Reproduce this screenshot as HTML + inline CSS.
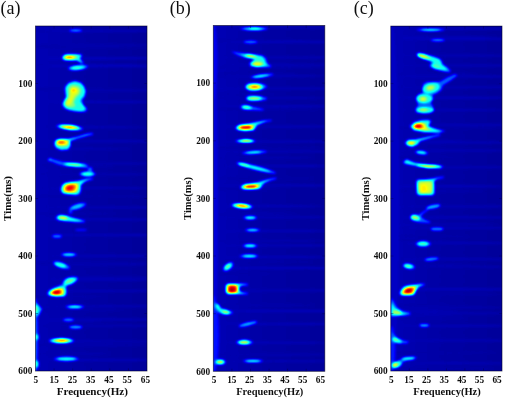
<!DOCTYPE html>
<html><head><meta charset="utf-8"><title>Spectrograms</title><style>
html,body{margin:0;padding:0;background:#fff;width:511px;height:399px;overflow:hidden}
svg{display:block;position:absolute;left:0;top:0}
text{font-family:"Liberation Serif",serif;fill:#111}
.t{font-weight:bold;font-size:9.3px}
.ax{font-weight:bold;font-size:11.1px}
.pl{font-size:18px}
</style></head><body>
<svg width="511" height="399" viewBox="0 0 511 399">
<defs>
<filter id="tb" x="-0.1" y="-0.3" width="1.2" height="1.6"><feGaussianBlur stdDeviation="0.35"/></filter>
<linearGradient id="bgg" x1="0" y1="0" x2="1" y2="0"><stop offset="0" stop-color="rgb(5.5%,5.5%,5.5%)"/><stop offset="0.4" stop-color="rgb(4.0%,4.0%,4.0%)"/><stop offset="1" stop-color="rgb(2.8%,2.8%,2.8%)"/></linearGradient>
<filter id="jet" x="0" y="0" width="1" height="1" color-interpolation-filters="sRGB">
<feGaussianBlur stdDeviation="0.95" edgeMode="duplicate"/>
<feComponentTransfer>
<feFuncR type="table" tableValues="0 0 0 0 0.5 1 1 1 0.5"/>
<feFuncG type="table" tableValues="0 0 0.5 1 1 1 0.5 0 0"/>
<feFuncB type="table" tableValues="0.5 1 1 1 0.5 0 0 0 0"/>
</feComponentTransfer>
</filter>

<clipPath id="ca"><rect x="35.5" y="26.0" width="111.50" height="345.00"/></clipPath>
<clipPath id="cb"><rect x="213.3" y="25.5" width="111.50" height="345.80"/></clipPath>
<clipPath id="cc"><rect x="390.8" y="26.1" width="111.20" height="344.90"/></clipPath>
</defs>
<g clip-path="url(#ca)"><g filter="url(#jet)">
<rect x="31.5" y="22.0" width="119.50" height="353.00" fill="url(#bgg)"/>
<ellipse cx="92.5" cy="47.0" rx="62.5" ry="1.0" fill="rgb(4.2%,4.2%,4.2%)"/>
<ellipse cx="90.2" cy="196.3" rx="60.2" ry="1.0" fill="rgb(4.4%,4.4%,4.4%)"/>
<ellipse cx="67.3" cy="88.5" rx="37.3" ry="1.0" fill="rgb(4.4%,4.4%,4.4%)"/>
<ellipse cx="94.9" cy="263.0" rx="64.9" ry="1.0" fill="rgb(4.4%,4.4%,4.4%)"/>
<ellipse cx="66.4" cy="31.1" rx="36.4" ry="1.0" fill="rgb(4.4%,4.4%,4.4%)"/>
<ellipse cx="74.4" cy="213.9" rx="44.4" ry="1.0" fill="rgb(4.6%,4.6%,4.6%)"/>
<ellipse cx="93.3" cy="345.0" rx="63.3" ry="1.0" fill="rgb(4.6%,4.6%,4.6%)"/>
<ellipse cx="78.7" cy="309.8" rx="48.7" ry="1.0" fill="rgb(4.7%,4.7%,4.7%)"/>
<ellipse cx="68.2" cy="296.7" rx="38.2" ry="1.0" fill="rgb(4.8%,4.8%,4.8%)"/>
<ellipse cx="94.6" cy="44.6" rx="64.6" ry="1.0" fill="rgb(4.9%,4.9%,4.9%)"/>
<ellipse cx="72.1" cy="166.4" rx="42.1" ry="1.0" fill="rgb(5.0%,5.0%,5.0%)"/>
<ellipse cx="75.2" cy="59.1" rx="45.2" ry="1.0" fill="rgb(5.0%,5.0%,5.0%)"/>
<ellipse cx="94.0" cy="174.4" rx="58.0" ry="1.1" fill="rgb(5.0%,5.0%,5.0%)"/>
<ellipse cx="93.5" cy="277.5" rx="63.5" ry="1.0" fill="rgb(5.0%,5.0%,5.0%)"/>
<ellipse cx="108.4" cy="341.4" rx="72.4" ry="1.1" fill="rgb(5.0%,5.0%,5.0%)"/>
<ellipse cx="111.0" cy="325.7" rx="75.0" ry="1.1" fill="rgb(5.0%,5.0%,5.0%)"/>
<ellipse cx="109.5" cy="90.4" rx="73.5" ry="1.1" fill="rgb(5.1%,5.1%,5.1%)"/>
<ellipse cx="107.4" cy="163.5" rx="71.4" ry="1.1" fill="rgb(5.2%,5.2%,5.2%)"/>
<ellipse cx="94.8" cy="264.6" rx="58.8" ry="1.1" fill="rgb(5.2%,5.2%,5.2%)"/>
<ellipse cx="70.9" cy="353.7" rx="40.9" ry="1.0" fill="rgb(5.2%,5.2%,5.2%)"/>
<ellipse cx="80.7" cy="149.0" rx="50.7" ry="1.0" fill="rgb(5.2%,5.2%,5.2%)"/>
<ellipse cx="87.5" cy="64.8" rx="57.5" ry="1.0" fill="rgb(5.2%,5.2%,5.2%)"/>
<ellipse cx="95.7" cy="188.1" rx="59.7" ry="1.1" fill="rgb(5.3%,5.3%,5.3%)"/>
<ellipse cx="91.8" cy="127.2" rx="55.8" ry="1.1" fill="rgb(5.3%,5.3%,5.3%)"/>
<ellipse cx="108.9" cy="207.4" rx="72.9" ry="1.1" fill="rgb(5.3%,5.3%,5.3%)"/>
<ellipse cx="109.4" cy="255.9" rx="73.4" ry="1.1" fill="rgb(5.4%,5.4%,5.4%)"/>
<ellipse cx="75.2" cy="341.1" rx="45.2" ry="1.0" fill="rgb(5.4%,5.4%,5.4%)"/>
<ellipse cx="105.1" cy="290.9" rx="69.1" ry="1.1" fill="rgb(5.4%,5.4%,5.4%)"/>
<ellipse cx="66.1" cy="321.2" rx="36.1" ry="1.0" fill="rgb(5.4%,5.4%,5.4%)"/>
<ellipse cx="107.9" cy="306.2" rx="71.9" ry="1.1" fill="rgb(5.6%,5.6%,5.6%)"/>
<ellipse cx="96.4" cy="101.9" rx="60.4" ry="1.1" fill="rgb(5.7%,5.7%,5.7%)"/>
<ellipse cx="98.8" cy="359.9" rx="62.8" ry="1.1" fill="rgb(5.7%,5.7%,5.7%)"/>
<ellipse cx="97.5" cy="279.7" rx="61.5" ry="1.1" fill="rgb(5.7%,5.7%,5.7%)"/>
<ellipse cx="102.3" cy="219.4" rx="66.3" ry="1.1" fill="rgb(5.8%,5.8%,5.8%)"/>
<ellipse cx="110.3" cy="235.1" rx="74.3" ry="1.1" fill="rgb(5.8%,5.8%,5.8%)"/>
<ellipse cx="101.1" cy="319.4" rx="65.1" ry="1.1" fill="rgb(5.8%,5.8%,5.8%)"/>
<ellipse cx="109.8" cy="141.3" rx="73.8" ry="1.1" fill="rgb(5.9%,5.9%,5.9%)"/>
<ellipse cx="106.3" cy="30.9" rx="70.3" ry="1.1" fill="rgb(6.0%,6.0%,6.0%)"/>
<ellipse cx="106.3" cy="58.3" rx="70.3" ry="1.1" fill="rgb(6.1%,6.1%,6.1%)"/>
<ellipse cx="100.8" cy="66.1" rx="64.8" ry="1.1" fill="rgb(6.1%,6.1%,6.1%)"/>
<ellipse cx="81.0" cy="229.9" rx="6.0" ry="1.2" fill="rgb(15.0%,15.0%,15.0%)"/>
<ellipse cx="70.5" cy="211.5" rx="2.0" ry="2.5" fill="rgb(18.0%,18.0%,18.0%)"/>
<ellipse cx="35.5" cy="338.0" rx="2.5" ry="40.0" fill="rgb(20.0%,20.0%,20.0%)"/>
<path d="M61.5 57.5 L63.0 55.0 L66.5 53.8 L76.0 53.8 L81.5 54.3 L82.5 56.0 L80.5 58.5 L84.0 62.5 L82.0 64.0 L77.5 61.0 L72.0 61.0 L65.0 60.8 L62.0 59.5Z" fill="rgb(22.0%,22.0%,22.0%)"/>
<ellipse cx="78.0" cy="67.5" rx="10.2" ry="2.7" fill="rgb(22.0%,22.0%,22.0%)" transform="rotate(-6 78.0 67.5)"/>
<path d="M75.0 80.4 L81.3 82.3 L84.2 85.8 L86.2 90.7 L85.2 96.5 L82.3 100.4 L83.3 104.4 L87.2 108.3 L86.2 111.7 L79.4 112.2 L69.6 110.7 L63.7 108.3 L61.7 104.4 L63.7 100.0 L65.7 96.5 L64.7 91.6 L64.7 86.7 L68.6 82.3Z" fill="rgb(22.0%,22.0%,22.0%)"/>
<ellipse cx="69.7" cy="127.5" rx="13.5" ry="2.9" fill="rgb(22.0%,22.0%,22.0%)" transform="rotate(6 69.7 127.5)"/>
<path d="M54.1 142.2 L55.8 139.3 L61.1 138.2 L68.1 138.4 L77.0 136.5 L86.0 133.8 L92.4 132.8 L93.2 134.7 L86.0 136.3 L77.3 138.8 L71.0 141.0 L71.0 146.0 L68.1 149.9 L61.1 150.5 L55.8 148.3 L54.1 145.0Z" fill="rgb(22.0%,22.0%,22.0%)"/>
<path d="M48.0 159.5 L50.0 158.0 L53.0 159.0 L62.0 161.5 L75.0 162.5 L85.0 163.5 L88.5 165.5 L87.0 168.5 L80.0 167.5 L66.0 166.5 L58.0 164.5 L51.0 161.5Z" fill="rgb(22.0%,22.0%,22.0%)"/>
<ellipse cx="87.5" cy="174.0" rx="8.2" ry="2.8" fill="rgb(22.0%,22.0%,22.0%)"/>
<ellipse cx="90.0" cy="170.0" rx="2.5" ry="3.0" fill="rgb(22.0%,22.0%,22.0%)"/>
<path d="M60.2 189.0 L61.5 185.0 L64.5 182.5 L70.0 181.3 L78.0 180.5 L86.0 178.5 L92.5 177.8 L93.0 179.5 L86.0 181.5 L81.5 185.0 L81.5 190.0 L80.0 194.0 L77.0 195.5 L70.0 195.0 L63.0 194.0 L60.8 192.0Z" fill="rgb(22.0%,22.0%,22.0%)"/>
<ellipse cx="77.5" cy="206.5" rx="9.0" ry="2.8" fill="rgb(22.0%,22.0%,22.0%)" transform="rotate(-18 77.5 206.5)"/>
<path d="M55.5 217.5 L57.0 215.5 L60.0 214.5 L66.0 215.0 L72.0 217.0 L80.0 219.0 L85.0 220.5 L84.5 222.5 L76.0 222.5 L66.0 221.5 L59.0 220.8 L56.2 219.5Z" fill="rgb(22.0%,22.0%,22.0%)"/>
<ellipse cx="68.9" cy="254.6" rx="7.8" ry="1.9" fill="rgb(22.0%,22.0%,22.0%)"/>
<ellipse cx="61.5" cy="265.3" rx="8.8" ry="3.0" fill="rgb(22.0%,22.0%,22.0%)" transform="rotate(18 61.5 265.3)"/>
<path d="M61.5 286.0 L62.5 282.0 L64.5 279.0 L68.0 277.3 L73.0 276.5 L77.5 277.0 L78.3 279.0 L76.0 282.0 L72.0 284.5 L67.0 286.0 L65.0 288.0Z" fill="rgb(22.0%,22.0%,22.0%)"/>
<path d="M47.0 293.0 L49.0 290.0 L53.0 287.8 L58.0 286.0 L61.0 284.5 L64.0 284.8 L66.5 287.0 L67.0 291.0 L66.5 295.0 L64.0 297.0 L56.0 297.2 L50.0 296.3 L47.5 295.0Z" fill="rgb(22.0%,22.0%,22.0%)"/>
<ellipse cx="74.8" cy="306.8" rx="9.3" ry="1.9" fill="rgb(22.0%,22.0%,22.0%)"/>
<ellipse cx="61.5" cy="340.7" rx="12.8" ry="2.9" fill="rgb(22.0%,22.0%,22.0%)"/>
<ellipse cx="66.5" cy="358.9" rx="12.3" ry="2.3" fill="rgb(22.0%,22.0%,22.0%)"/>
<ellipse cx="57.0" cy="236.3" rx="4.8" ry="1.8" fill="rgb(24.0%,24.0%,24.0%)"/>
<ellipse cx="36.0" cy="337.0" rx="3.0" ry="4.0" fill="rgb(25.0%,25.0%,25.0%)"/>
<ellipse cx="36.0" cy="364.0" rx="3.0" ry="4.5" fill="rgb(25.0%,25.0%,25.0%)"/>
<ellipse cx="75.7" cy="30.5" rx="6.5" ry="1.4" fill="rgb(26.0%,26.0%,26.0%)"/>
<ellipse cx="68.5" cy="319.8" rx="5.2" ry="1.6" fill="rgb(26.0%,26.0%,26.0%)"/>
<ellipse cx="50.0" cy="159.8" rx="2.2" ry="1.4" fill="rgb(28.0%,28.0%,28.0%)"/>
<path d="M35.0 302.0 L37.0 303.0 L42.0 309.0 L38.5 316.0 L35.0 317.0Z" fill="rgb(30.0%,30.0%,30.0%)"/>
<ellipse cx="75.7" cy="327.1" rx="6.5" ry="1.7" fill="rgb(30.0%,30.0%,30.0%)"/>
<ellipse cx="77.0" cy="206.6" rx="6.0" ry="1.8" fill="rgb(33.0%,33.0%,33.0%)" transform="rotate(-18 77.0 206.6)"/>
<path d="M62.8 57.5 L64.0 55.3 L67.0 54.6 L76.0 54.6 L80.5 55.0 L81.0 56.2 L79.0 58.5 L81.5 62.0 L80.5 62.6 L77.0 60.2 L72.0 60.2 L65.5 60.0 L63.2 59.0Z" fill="rgb(40.0%,40.0%,40.0%)"/>
<ellipse cx="77.5" cy="67.7" rx="7.5" ry="1.9" fill="rgb(40.0%,40.0%,40.0%)" transform="rotate(-6 77.5 67.7)"/>
<path d="M74.5 81.8 L80.3 83.3 L83.8 86.7 L85.2 91.6 L83.8 96.0 L80.8 99.0 L80.3 101.4 L83.3 105.3 L85.7 109.2 L82.3 111.2 L74.5 110.7 L66.6 108.8 L63.2 104.4 L64.2 100.4 L66.6 97.0 L66.1 92.6 L65.7 87.7 L68.6 83.8Z" fill="rgb(40.0%,40.0%,40.0%)"/>
<ellipse cx="69.5" cy="127.3" rx="11.0" ry="2.3" fill="rgb(40.0%,40.0%,40.0%)" transform="rotate(6 69.5 127.3)"/>
<path d="M55.2 142.2 L56.6 140.0 L61.1 139.1 L68.0 139.3 L77.0 137.4 L86.0 134.8 L90.5 134.0 L86.0 135.6 L77.3 138.0 L70.0 140.5 L70.0 146.0 L67.5 149.0 L61.1 149.5 L56.5 147.5 L55.2 145.0Z" fill="rgb(40.0%,40.0%,40.0%)"/>
<ellipse cx="74.5" cy="164.8" rx="11.0" ry="1.7" fill="rgb(40.0%,40.0%,40.0%)" transform="rotate(4 74.5 164.8)"/>
<ellipse cx="87.5" cy="174.0" rx="6.0" ry="2.0" fill="rgb(40.0%,40.0%,40.0%)"/>
<path d="M61.5 189.0 L62.5 185.5 L65.0 183.3 L70.0 182.3 L78.0 181.5 L86.0 179.5 L89.0 179.3 L84.0 181.5 L80.2 185.5 L80.0 190.0 L78.5 193.5 L76.0 194.5 L70.0 194.0 L63.5 193.2 L61.8 191.5Z" fill="rgb(40.0%,40.0%,40.0%)"/>
<path d="M57.0 217.7 L59.0 216.0 L63.0 215.6 L67.0 216.3 L73.0 218.3 L80.0 220.0 L82.0 221.3 L76.0 221.5 L66.0 220.7 L59.5 219.8Z" fill="rgb(40.0%,40.0%,40.0%)"/>
<ellipse cx="68.9" cy="254.6" rx="5.5" ry="1.2" fill="rgb(40.0%,40.0%,40.0%)"/>
<path d="M63.5 285.5 L64.0 282.5 L66.0 279.8 L69.0 278.3 L73.0 277.7 L76.5 278.3 L75.5 280.8 L71.5 283.5 L67.0 285.0 L65.0 287.0Z" fill="rgb(40.0%,40.0%,40.0%)"/>
<path d="M48.5 293.0 L50.5 290.5 L54.0 288.6 L58.5 287.0 L62.0 286.0 L64.5 286.5 L65.8 289.5 L65.8 293.5 L64.5 296.0 L56.0 296.3 L50.5 295.5 L48.8 294.5Z" fill="rgb(40.0%,40.0%,40.0%)"/>
<ellipse cx="61.5" cy="340.7" rx="11.0" ry="2.3" fill="rgb(40.0%,40.0%,40.0%)"/>
<ellipse cx="60.5" cy="265.0" rx="6.0" ry="2.0" fill="rgb(42.0%,42.0%,42.0%)" transform="rotate(15 60.5 265.0)"/>
<ellipse cx="74.8" cy="306.8" rx="6.5" ry="1.2" fill="rgb(42.0%,42.0%,42.0%)"/>
<ellipse cx="66.5" cy="358.9" rx="9.0" ry="1.5" fill="rgb(42.0%,42.0%,42.0%)"/>
<ellipse cx="87.0" cy="174.0" rx="3.0" ry="1.2" fill="rgb(44.0%,44.0%,44.0%)"/>
<ellipse cx="36.0" cy="337.0" rx="1.8" ry="2.5" fill="rgb(45.0%,45.0%,45.0%)"/>
<ellipse cx="36.0" cy="364.0" rx="1.8" ry="3.0" fill="rgb(45.0%,45.0%,45.0%)"/>
<ellipse cx="76.5" cy="68.0" rx="4.0" ry="1.2" fill="rgb(46.0%,46.0%,46.0%)"/>
<ellipse cx="69.5" cy="281.0" rx="4.5" ry="2.2" fill="rgb(48.0%,48.0%,48.0%)" transform="rotate(-20 69.5 281.0)"/>
<ellipse cx="36.0" cy="309.5" rx="2.0" ry="4.0" fill="rgb(48.0%,48.0%,48.0%)"/>
<path d="M63.5 57.5 L65.0 55.6 L68.0 55.2 L74.0 55.3 L77.5 55.8 L76.5 58.0 L73.0 59.5 L66.0 59.5 L64.0 58.7Z" fill="rgb(52.0%,52.0%,52.0%)"/>
<path d="M73.5 85.0 L78.5 86.3 L80.8 89.5 L80.0 93.8 L76.8 96.8 L74.8 99.8 L74.0 103.0 L75.5 106.0 L71.0 107.5 L66.0 106.5 L64.5 103.5 L66.5 100.0 L68.5 96.5 L68.5 92.0 L68.5 88.0 L70.5 85.8Z" fill="rgb(52.0%,52.0%,52.0%)"/>
<ellipse cx="69.5" cy="127.3" rx="9.5" ry="2.0" fill="rgb(52.0%,52.0%,52.0%)" transform="rotate(5 69.5 127.3)"/>
<path d="M55.8 142.5 L57.0 140.2 L60.0 139.5 L65.0 139.5 L68.8 140.3 L69.0 143.0 L67.5 145.8 L62.0 146.3 L57.5 145.6 L56.0 144.2Z" fill="rgb(52.0%,52.0%,52.0%)"/>
<ellipse cx="74.0" cy="164.7" rx="7.5" ry="1.4" fill="rgb(52.0%,52.0%,52.0%)" transform="rotate(4 74.0 164.7)"/>
<path d="M62.5 188.5 L63.5 185.5 L66.0 183.8 L71.0 183.0 L77.0 182.8 L79.0 184.0 L78.8 188.0 L77.5 192.0 L74.0 193.3 L68.0 193.3 L64.0 192.5 L62.7 190.8Z" fill="rgb(52.0%,52.0%,52.0%)"/>
<ellipse cx="63.0" cy="217.9" rx="5.0" ry="1.9" fill="rgb(52.0%,52.0%,52.0%)" transform="rotate(8 63.0 217.9)"/>
<path d="M49.5 293.0 L51.5 290.8 L55.0 289.2 L59.0 288.0 L62.5 287.8 L64.3 289.5 L64.3 293.5 L63.0 295.5 L56.0 295.7 L51.0 295.0 L49.7 294.2Z" fill="rgb(52.0%,52.0%,52.0%)"/>
<ellipse cx="61.5" cy="340.6" rx="8.5" ry="1.9" fill="rgb(55.0%,55.0%,55.0%)"/>
<path d="M73.0 87.2 L77.0 88.2 L78.6 90.7 L77.6 93.8 L75.0 95.6 L73.0 98.6 L72.0 102.0 L70.0 104.8 L67.3 105.5 L66.0 104.0 L67.0 100.8 L69.6 97.3 L70.2 93.4 L70.2 89.7Z" fill="rgb(60.0%,60.0%,60.0%)"/>
<ellipse cx="63.0" cy="217.9" rx="3.8" ry="1.4" fill="rgb(60.0%,60.0%,60.0%)" transform="rotate(8 63.0 217.9)"/>
<path d="M64.5 57.5 L66.0 56.0 L69.0 55.7 L73.5 56.0 L75.5 56.5 L74.5 58.2 L72.0 59.0 L66.5 59.0 L65.0 58.4Z" fill="rgb(63.0%,63.0%,63.0%)"/>
<ellipse cx="69.5" cy="127.3" rx="8.0" ry="1.5" fill="rgb(64.0%,64.0%,64.0%)" transform="rotate(5 69.5 127.3)"/>
<path d="M56.6 142.5 L57.8 140.6 L60.3 140.0 L65.0 140.0 L68.0 140.7 L68.1 143.0 L66.5 145.1 L62.0 145.5 L58.0 145.0 L56.8 144.0Z" fill="rgb(64.0%,64.0%,64.0%)"/>
<path d="M63.5 188.5 L64.5 186.0 L66.5 184.5 L71.0 183.8 L76.0 183.6 L77.8 184.8 L77.5 188.0 L76.0 191.5 L73.0 192.6 L68.0 192.6 L65.0 191.8 L63.7 190.3Z" fill="rgb(64.0%,64.0%,64.0%)"/>
<path d="M50.3 293.0 L52.2 291.1 L55.5 289.7 L59.5 288.8 L62.0 288.8 L63.3 290.2 L63.2 293.5 L62.0 295.0 L56.0 295.2 L51.5 294.5Z" fill="rgb(64.0%,64.0%,64.0%)"/>
<ellipse cx="61.8" cy="340.6" rx="7.0" ry="1.6" fill="rgb(66.0%,66.0%,66.0%)"/>
<ellipse cx="73.5" cy="90.2" rx="2.5" ry="1.6" fill="rgb(68.0%,68.0%,68.0%)"/>
<ellipse cx="69.6" cy="57.3" rx="3.2" ry="1.4" fill="rgb(76.0%,76.0%,76.0%)"/>
<ellipse cx="62.0" cy="340.6" rx="4.0" ry="1.3" fill="rgb(76.0%,76.0%,76.0%)"/>
<ellipse cx="69.2" cy="127.2" rx="4.2" ry="1.0" fill="rgb(78.0%,78.0%,78.0%)" transform="rotate(3 69.2 127.2)"/>
<ellipse cx="61.3" cy="142.3" rx="3.4" ry="1.7" fill="rgb(78.0%,78.0%,78.0%)"/>
<path d="M65.3 188.5 L66.5 186.0 L69.0 184.7 L73.0 184.4 L75.5 185.2 L75.5 188.0 L73.5 190.8 L70.0 191.3 L67.0 191.0 L65.6 190.0Z" fill="rgb(78.0%,78.0%,78.0%)"/>
<path d="M51.5 292.8 L53.0 291.0 L56.0 290.0 L59.5 289.4 L61.2 290.0 L61.5 292.5 L60.5 294.3 L56.0 294.7 L52.5 294.2Z" fill="rgb(78.0%,78.0%,78.0%)"/>
<ellipse cx="70.0" cy="188.0" rx="3.6" ry="2.2" fill="rgb(88.0%,88.0%,88.0%)" transform="rotate(-15 70.0 188.0)"/>
<path d="M52.5 292.6 L54.0 291.1 L57.0 290.4 L59.5 290.3 L60.3 292.0 L59.5 293.8 L56.0 294.2 L53.5 293.8Z" fill="rgb(92.0%,92.0%,92.0%)"/>
<ellipse cx="56.0" cy="292.4" rx="2.5" ry="1.2" fill="rgb(96.0%,96.0%,96.0%)"/>
</g></g>
<rect x="35.5" y="26.0" width="111.50" height="345.00" fill="none" stroke="#000020" stroke-width="0.8" stroke-opacity="0.7"/>
<path d="M54.1 371.0v-2.6M54.1 26.0v2.6M35.5 83.5h2.6M147.0 83.5h-2.6M72.7 371.0v-2.6M72.7 26.0v2.6M35.5 141.0h2.6M147.0 141.0h-2.6M91.2 371.0v-2.6M91.2 26.0v2.6M35.5 198.5h2.6M147.0 198.5h-2.6M109.8 371.0v-2.6M109.8 26.0v2.6M35.5 256.0h2.6M147.0 256.0h-2.6M128.4 371.0v-2.6M128.4 26.0v2.6M35.5 313.5h2.6M147.0 313.5h-2.6" stroke="#000040" stroke-width="0.8" stroke-opacity="0.45" fill="none"/>
<g filter="url(#tb)">
<text class="t" x="32.3" y="86.7" text-anchor="end">100</text>
<text class="t" x="32.3" y="144.2" text-anchor="end">200</text>
<text class="t" x="32.3" y="201.7" text-anchor="end">300</text>
<text class="t" x="32.3" y="259.2" text-anchor="end">400</text>
<text class="t" x="32.3" y="316.7" text-anchor="end">500</text>
<text class="t" x="32.3" y="374.2" text-anchor="end">600</text>
<text class="t" x="35.95" y="382.7" text-anchor="middle">5</text>
<text class="t" x="54.21" y="382.7" text-anchor="middle">15</text>
<text class="t" x="72.47" y="382.7" text-anchor="middle">25</text>
<text class="t" x="90.73" y="382.7" text-anchor="middle">35</text>
<text class="t" x="108.99" y="382.7" text-anchor="middle">45</text>
<text class="t" x="127.25" y="382.7" text-anchor="middle">55</text>
<text class="t" x="145.51" y="382.7" text-anchor="middle">65</text>
<text class="ax" x="92.30" y="395.3" text-anchor="middle" style="font-size:11.1px">Frequency(Hz)</text>
<text class="ax" transform="translate(11.4 198.5) rotate(-90)" x="0" y="0" text-anchor="middle" style="font-size:11.0px">Time(ms)</text>
<text class="pl" x="0.5" y="13.6">(a)</text>
</g>
<g clip-path="url(#cb)"><g filter="url(#jet)">
<rect x="209.3" y="21.5" width="119.50" height="353.80" fill="url(#bgg)"/>
<ellipse cx="270.1" cy="109.1" rx="62.1" ry="1.0" fill="rgb(4.2%,4.2%,4.2%)"/>
<ellipse cx="269.8" cy="147.7" rx="61.8" ry="1.0" fill="rgb(4.2%,4.2%,4.2%)"/>
<ellipse cx="261.9" cy="261.9" rx="53.9" ry="1.0" fill="rgb(4.3%,4.3%,4.3%)"/>
<ellipse cx="249.8" cy="188.8" rx="41.8" ry="1.0" fill="rgb(4.3%,4.3%,4.3%)"/>
<ellipse cx="261.4" cy="40.3" rx="53.4" ry="1.0" fill="rgb(4.3%,4.3%,4.3%)"/>
<ellipse cx="243.8" cy="273.7" rx="35.8" ry="1.0" fill="rgb(4.4%,4.4%,4.4%)"/>
<ellipse cx="252.5" cy="73.5" rx="44.5" ry="1.0" fill="rgb(4.4%,4.4%,4.4%)"/>
<ellipse cx="262.5" cy="178.4" rx="54.5" ry="1.0" fill="rgb(4.5%,4.5%,4.5%)"/>
<ellipse cx="262.3" cy="305.2" rx="54.3" ry="1.0" fill="rgb(4.7%,4.7%,4.7%)"/>
<ellipse cx="267.9" cy="67.2" rx="59.9" ry="1.0" fill="rgb(4.7%,4.7%,4.7%)"/>
<ellipse cx="251.4" cy="166.2" rx="43.4" ry="1.0" fill="rgb(4.7%,4.7%,4.7%)"/>
<ellipse cx="267.6" cy="354.8" rx="59.6" ry="1.0" fill="rgb(4.7%,4.7%,4.7%)"/>
<ellipse cx="244.1" cy="93.9" rx="36.1" ry="1.0" fill="rgb(4.8%,4.8%,4.8%)"/>
<ellipse cx="260.9" cy="76.5" rx="52.9" ry="1.0" fill="rgb(4.9%,4.9%,4.9%)"/>
<ellipse cx="253.2" cy="213.9" rx="45.2" ry="1.0" fill="rgb(5.0%,5.0%,5.0%)"/>
<ellipse cx="261.4" cy="157.7" rx="53.4" ry="1.0" fill="rgb(5.0%,5.0%,5.0%)"/>
<ellipse cx="272.0" cy="354.4" rx="64.0" ry="1.0" fill="rgb(5.0%,5.0%,5.0%)"/>
<ellipse cx="266.2" cy="240.7" rx="58.2" ry="1.0" fill="rgb(5.0%,5.0%,5.0%)"/>
<ellipse cx="276.3" cy="98.0" rx="62.3" ry="1.1" fill="rgb(5.1%,5.1%,5.1%)"/>
<ellipse cx="283.6" cy="151.6" rx="69.6" ry="1.1" fill="rgb(5.3%,5.3%,5.3%)"/>
<ellipse cx="279.1" cy="64.7" rx="65.1" ry="1.1" fill="rgb(5.3%,5.3%,5.3%)"/>
<ellipse cx="286.4" cy="27.7" rx="72.4" ry="1.1" fill="rgb(5.4%,5.4%,5.4%)"/>
<ellipse cx="272.4" cy="75.7" rx="58.4" ry="1.1" fill="rgb(5.5%,5.5%,5.5%)"/>
<ellipse cx="282.8" cy="361.2" rx="68.8" ry="1.1" fill="rgb(5.5%,5.5%,5.5%)"/>
<ellipse cx="282.9" cy="217.3" rx="68.9" ry="1.1" fill="rgb(5.6%,5.6%,5.6%)"/>
<ellipse cx="278.6" cy="57.4" rx="64.6" ry="1.1" fill="rgb(5.6%,5.6%,5.6%)"/>
<ellipse cx="279.9" cy="290.4" rx="65.9" ry="1.1" fill="rgb(5.6%,5.6%,5.6%)"/>
<ellipse cx="269.7" cy="206.2" rx="55.7" ry="1.1" fill="rgb(5.7%,5.7%,5.7%)"/>
<ellipse cx="288.7" cy="88.5" rx="74.7" ry="1.1" fill="rgb(5.8%,5.8%,5.8%)"/>
<ellipse cx="288.4" cy="185.4" rx="74.4" ry="1.1" fill="rgb(5.8%,5.8%,5.8%)"/>
<ellipse cx="284.9" cy="166.0" rx="70.9" ry="1.1" fill="rgb(5.8%,5.8%,5.8%)"/>
<ellipse cx="283.3" cy="323.9" rx="69.3" ry="1.1" fill="rgb(5.9%,5.9%,5.9%)"/>
<ellipse cx="282.4" cy="245.5" rx="68.4" ry="1.1" fill="rgb(5.9%,5.9%,5.9%)"/>
<ellipse cx="282.8" cy="141.6" rx="68.8" ry="1.1" fill="rgb(5.9%,5.9%,5.9%)"/>
<ellipse cx="285.2" cy="126.6" rx="71.2" ry="1.1" fill="rgb(5.9%,5.9%,5.9%)"/>
<ellipse cx="272.9" cy="342.7" rx="58.9" ry="1.1" fill="rgb(5.9%,5.9%,5.9%)"/>
<ellipse cx="282.4" cy="231.0" rx="68.4" ry="1.1" fill="rgb(6.0%,6.0%,6.0%)"/>
<ellipse cx="276.5" cy="257.0" rx="62.5" ry="1.1" fill="rgb(6.0%,6.0%,6.0%)"/>
<ellipse cx="289.5" cy="41.9" rx="75.5" ry="1.1" fill="rgb(6.0%,6.0%,6.0%)"/>
<ellipse cx="285.1" cy="106.3" rx="71.1" ry="1.1" fill="rgb(6.0%,6.0%,6.0%)"/>
<ellipse cx="286.2" cy="311.0" rx="72.2" ry="1.1" fill="rgb(6.1%,6.1%,6.1%)"/>
<ellipse cx="283.3" cy="268.1" rx="69.3" ry="1.1" fill="rgb(6.2%,6.2%,6.2%)"/>
<ellipse cx="213.0" cy="200.0" rx="5.0" ry="180.0" fill="rgb(8.5%,8.5%,8.5%)"/>
<ellipse cx="213.0" cy="60.0" rx="4.5" ry="40.0" fill="rgb(11.0%,11.0%,11.0%)"/>
<ellipse cx="213.0" cy="335.0" rx="6.0" ry="40.0" fill="rgb(14.0%,14.0%,14.0%)"/>
<ellipse cx="254.0" cy="28.7" rx="13.5" ry="1.7" fill="rgb(22.0%,22.0%,22.0%)"/>
<path d="M231.0 51.5 L236.0 52.0 L245.0 53.2 L256.0 54.2 L263.0 55.5 L266.0 58.0 L267.0 61.0 L268.0 63.5 L271.5 66.0 L270.0 67.5 L264.0 67.5 L256.0 67.5 L250.0 66.5 L249.0 63.0 L252.0 60.5 L254.0 59.0 L245.0 58.0 L238.0 55.5Z" fill="rgb(22.0%,22.0%,22.0%)"/>
<ellipse cx="262.0" cy="75.9" rx="11.7" ry="1.8" fill="rgb(22.0%,22.0%,22.0%)" transform="rotate(-8 262.0 75.9)"/>
<path d="M245.0 87.0 L246.0 84.5 L249.0 82.7 L258.0 82.7 L264.0 84.0 L267.5 86.5 L264.0 89.0 L258.0 91.0 L250.0 91.3 L246.5 89.5Z" fill="rgb(22.0%,22.0%,22.0%)"/>
<path d="M245.8 98.5 L247.0 96.0 L251.0 95.3 L260.0 95.8 L267.0 97.8 L266.0 100.0 L260.0 101.0 L251.0 101.3 L247.0 100.5Z" fill="rgb(22.0%,22.0%,22.0%)"/>
<path d="M240.3 107.0 L241.5 105.0 L245.0 104.8 L250.0 105.8 L258.0 107.8 L264.8 109.5 L262.0 110.5 L252.0 110.2 L244.0 109.8 L241.0 108.8Z" fill="rgb(22.0%,22.0%,22.0%)"/>
<path d="M235.0 127.7 L237.0 125.5 L240.0 124.2 L249.6 123.0 L256.0 121.7 L264.0 120.2 L271.5 119.7 L271.5 121.0 L264.0 122.5 L257.5 125.5 L256.0 128.0 L254.0 130.8 L245.0 131.4 L238.0 130.5 L235.6 129.0Z" fill="rgb(22.0%,22.0%,22.0%)"/>
<ellipse cx="245.5" cy="140.9" rx="10.2" ry="1.8" fill="rgb(22.0%,22.0%,22.0%)"/>
<ellipse cx="254.5" cy="152.3" rx="12.5" ry="1.7" fill="rgb(22.0%,22.0%,22.0%)" transform="rotate(-4 254.5 152.3)"/>
<ellipse cx="256.0" cy="168.0" rx="20.5" ry="2.3" fill="rgb(22.0%,22.0%,22.0%)" transform="rotate(14.6 256.0 168.0)"/>
<path d="M239.8 187.5 L241.5 185.0 L245.0 183.5 L252.0 182.7 L259.0 181.5 L266.0 179.5 L272.0 178.0 L276.5 177.5 L276.0 179.3 L270.0 181.0 L264.0 183.5 L262.5 186.5 L260.0 189.0 L252.0 189.8 L245.0 189.8 L241.5 189.0Z" fill="rgb(22.0%,22.0%,22.0%)"/>
<ellipse cx="242.0" cy="206.0" rx="11.0" ry="2.8" fill="rgb(22.0%,22.0%,22.0%)" transform="rotate(5 242.0 206.0)"/>
<ellipse cx="250.2" cy="217.7" rx="6.8" ry="2.0" fill="rgb(22.0%,22.0%,22.0%)"/>
<ellipse cx="252.6" cy="230.1" rx="7.5" ry="1.6" fill="rgb(22.0%,22.0%,22.0%)"/>
<ellipse cx="250.1" cy="245.8" rx="7.5" ry="2.0" fill="rgb(22.0%,22.0%,22.0%)"/>
<ellipse cx="249.0" cy="256.1" rx="9.4" ry="2.0" fill="rgb(22.0%,22.0%,22.0%)"/>
<ellipse cx="228.2" cy="266.6" rx="6.2" ry="3.5" fill="rgb(22.0%,22.0%,22.0%)" transform="rotate(-40 228.2 266.6)"/>
<path d="M225.2 286.0 L226.5 283.8 L229.0 283.2 L240.0 283.3 L247.5 283.6 L248.0 285.5 L241.0 286.2 L239.5 288.9 L241.0 291.8 L248.0 292.8 L247.5 294.4 L240.0 294.6 L229.0 294.6 L226.5 294.0 L225.2 292.0Z" fill="rgb(22.0%,22.0%,22.0%)"/>
<path d="M213.0 302.0 L216.0 302.5 L219.0 306.5 L224.0 309.5 L232.0 311.0 L233.0 313.5 L228.0 315.0 L222.0 314.5 L217.0 312.0 L213.5 308.0Z" fill="rgb(22.0%,22.0%,22.0%)"/>
<ellipse cx="244.5" cy="342.3" rx="8.5" ry="2.7" fill="rgb(22.0%,22.0%,22.0%)"/>
<ellipse cx="220.0" cy="362.0" rx="6.0" ry="3.0" fill="rgb(22.0%,22.0%,22.0%)"/>
<ellipse cx="253.0" cy="361.0" rx="10.0" ry="1.6" fill="rgb(22.0%,22.0%,22.0%)"/>
<ellipse cx="250.6" cy="42.0" rx="7.0" ry="1.4" fill="rgb(26.0%,26.0%,26.0%)"/>
<ellipse cx="248.0" cy="324.0" rx="9.5" ry="1.7" fill="rgb(30.0%,30.0%,30.0%)" transform="rotate(-14 248.0 324.0)"/>
<ellipse cx="254.0" cy="28.7" rx="10.0" ry="1.1" fill="rgb(40.0%,40.0%,40.0%)"/>
<path d="M240.0 54.0 L247.0 54.5 L256.0 55.2 L262.0 56.5 L264.5 59.5 L265.5 63.0 L268.0 65.5 L264.0 66.5 L256.0 66.5 L251.0 65.5 L251.0 63.0 L254.0 60.5 L255.0 59.0 L246.0 57.5Z" fill="rgb(40.0%,40.0%,40.0%)"/>
<ellipse cx="254.5" cy="87.0" rx="9.0" ry="3.5" fill="rgb(40.0%,40.0%,40.0%)"/>
<ellipse cx="254.5" cy="98.4" rx="8.0" ry="2.2" fill="rgb(40.0%,40.0%,40.0%)"/>
<ellipse cx="247.0" cy="107.4" rx="5.0" ry="1.8" fill="rgb(40.0%,40.0%,40.0%)" transform="rotate(8 247.0 107.4)"/>
<path d="M236.2 127.7 L238.0 125.8 L240.5 124.8 L249.6 123.8 L256.0 122.5 L264.0 121.0 L267.0 120.9 L257.0 124.5 L255.0 127.5 L253.3 130.0 L245.0 130.7 L238.5 129.9 L236.6 128.8Z" fill="rgb(40.0%,40.0%,40.0%)"/>
<ellipse cx="245.7" cy="140.9" rx="8.5" ry="1.4" fill="rgb(40.0%,40.0%,40.0%)"/>
<ellipse cx="254.0" cy="167.5" rx="17.0" ry="1.6" fill="rgb(40.0%,40.0%,40.0%)" transform="rotate(14.6 254.0 167.5)"/>
<path d="M241.0 187.5 L242.5 185.5 L245.5 184.3 L252.0 183.6 L259.0 182.5 L266.0 180.5 L271.0 179.3 L266.0 181.8 L261.5 184.5 L261.2 186.8 L259.2 188.6 L252.0 189.2 L245.0 189.2 L242.0 188.6Z" fill="rgb(40.0%,40.0%,40.0%)"/>
<ellipse cx="242.0" cy="206.0" rx="9.5" ry="2.2" fill="rgb(40.0%,40.0%,40.0%)" transform="rotate(5 242.0 206.0)"/>
<ellipse cx="252.5" cy="230.1" rx="5.0" ry="1.0" fill="rgb(40.0%,40.0%,40.0%)"/>
<ellipse cx="228.0" cy="266.6" rx="4.3" ry="2.3" fill="rgb(40.0%,40.0%,40.0%)" transform="rotate(-40 228.0 266.6)"/>
<path d="M226.0 286.3 L227.2 284.3 L229.5 283.9 L240.0 284.0 L245.0 284.4 L240.0 285.5 L238.3 288.9 L240.0 292.3 L245.0 293.4 L240.0 293.9 L229.5 293.9 L227.0 293.3 L226.0 291.5Z" fill="rgb(40.0%,40.0%,40.0%)"/>
<ellipse cx="224.5" cy="311.5" rx="6.0" ry="2.2" fill="rgb(40.0%,40.0%,40.0%)" transform="rotate(15 224.5 311.5)"/>
<ellipse cx="218.0" cy="307.0" rx="2.0" ry="3.5" fill="rgb(40.0%,40.0%,40.0%)" transform="rotate(-30 218.0 307.0)"/>
<ellipse cx="244.3" cy="342.3" rx="6.5" ry="2.0" fill="rgb(40.0%,40.0%,40.0%)"/>
<ellipse cx="220.0" cy="362.0" rx="4.5" ry="2.2" fill="rgb(40.0%,40.0%,40.0%)"/>
<ellipse cx="261.0" cy="76.1" rx="8.0" ry="1.1" fill="rgb(42.0%,42.0%,42.0%)" transform="rotate(-8 261.0 76.1)"/>
<ellipse cx="253.5" cy="152.3" rx="8.0" ry="1.1" fill="rgb(42.0%,42.0%,42.0%)" transform="rotate(-4 253.5 152.3)"/>
<ellipse cx="250.3" cy="217.7" rx="4.8" ry="1.3" fill="rgb(42.0%,42.0%,42.0%)"/>
<ellipse cx="250.0" cy="245.8" rx="5.0" ry="1.3" fill="rgb(42.0%,42.0%,42.0%)"/>
<ellipse cx="249.5" cy="256.1" rx="6.5" ry="1.2" fill="rgb(42.0%,42.0%,42.0%)"/>
<ellipse cx="253.0" cy="361.0" rx="7.0" ry="1.0" fill="rgb(45.0%,45.0%,45.0%)"/>
<ellipse cx="246.0" cy="107.2" rx="3.0" ry="1.2" fill="rgb(50.0%,50.0%,50.0%)"/>
<ellipse cx="244.0" cy="164.8" rx="5.5" ry="1.5" fill="rgb(50.0%,50.0%,50.0%)" transform="rotate(14.6 244.0 164.8)"/>
<ellipse cx="227.9" cy="266.6" rx="2.8" ry="1.4" fill="rgb(50.0%,50.0%,50.0%)" transform="rotate(-40 227.9 266.6)"/>
<ellipse cx="251.0" cy="56.1" rx="6.0" ry="1.6" fill="rgb(52.0%,52.0%,52.0%)" transform="rotate(10 251.0 56.1)"/>
<ellipse cx="257.5" cy="64.0" rx="6.0" ry="2.5" fill="rgb(52.0%,52.0%,52.0%)"/>
<ellipse cx="254.5" cy="87.0" rx="7.5" ry="2.8" fill="rgb(52.0%,52.0%,52.0%)"/>
<path d="M237.2 127.6 L239.0 126.0 L241.0 125.3 L250.0 124.6 L254.3 124.8 L254.0 127.5 L252.8 129.7 L245.0 130.3 L239.0 129.6Z" fill="rgb(52.0%,52.0%,52.0%)"/>
<ellipse cx="245.9" cy="140.9" rx="7.0" ry="1.2" fill="rgb(52.0%,52.0%,52.0%)"/>
<path d="M242.3 187.3 L243.5 185.6 L246.0 184.7 L252.0 184.2 L258.0 183.8 L259.8 184.8 L259.5 187.0 L257.8 188.5 L252.0 188.8 L245.0 188.8 L243.0 188.3Z" fill="rgb(52.0%,52.0%,52.0%)"/>
<ellipse cx="242.0" cy="206.0" rx="8.0" ry="1.8" fill="rgb(52.0%,52.0%,52.0%)" transform="rotate(5 242.0 206.0)"/>
<path d="M226.4 286.5 L227.5 284.5 L229.5 284.2 L236.5 284.3 L238.3 285.5 L238.3 292.3 L236.5 293.6 L229.5 293.7 L227.4 293.3 L226.4 291.5Z" fill="rgb(52.0%,52.0%,52.0%)"/>
<ellipse cx="255.0" cy="28.7" rx="6.0" ry="0.9" fill="rgb(55.0%,55.0%,55.0%)"/>
<ellipse cx="254.0" cy="98.3" rx="5.5" ry="1.6" fill="rgb(55.0%,55.0%,55.0%)"/>
<ellipse cx="225.5" cy="312.2" rx="3.5" ry="1.4" fill="rgb(55.0%,55.0%,55.0%)" transform="rotate(10 225.5 312.2)"/>
<ellipse cx="244.0" cy="342.3" rx="4.5" ry="1.5" fill="rgb(60.0%,60.0%,60.0%)"/>
<ellipse cx="220.0" cy="362.0" rx="3.0" ry="1.5" fill="rgb(60.0%,60.0%,60.0%)"/>
<ellipse cx="250.5" cy="56.0" rx="3.5" ry="1.1" fill="rgb(62.0%,62.0%,62.0%)" transform="rotate(10 250.5 56.0)"/>
<ellipse cx="257.5" cy="64.0" rx="4.0" ry="1.8" fill="rgb(62.0%,62.0%,62.0%)"/>
<ellipse cx="254.5" cy="86.9" rx="6.0" ry="2.3" fill="rgb(64.0%,64.0%,64.0%)"/>
<path d="M238.0 127.6 L239.7 126.2 L241.5 125.7 L250.0 125.1 L253.3 125.3 L253.0 127.7 L252.0 129.4 L245.0 129.9 L239.7 129.3Z" fill="rgb(64.0%,64.0%,64.0%)"/>
<path d="M243.0 187.2 L244.3 185.8 L246.5 185.1 L252.0 184.7 L257.5 184.5 L258.5 185.5 L258.2 187.2 L256.5 188.3 L252.0 188.5 L245.5 188.4 L243.7 188.0Z" fill="rgb(64.0%,64.0%,64.0%)"/>
<ellipse cx="241.8" cy="205.9" rx="6.5" ry="1.5" fill="rgb(64.0%,64.0%,64.0%)" transform="rotate(5 241.8 205.9)"/>
<path d="M226.9 286.8 L228.0 284.9 L230.0 284.6 L236.0 284.7 L237.8 286.0 L237.7 291.8 L236.0 293.1 L230.0 293.3 L227.8 292.9 L226.9 291.2Z" fill="rgb(64.0%,64.0%,64.0%)"/>
<ellipse cx="246.5" cy="140.9" rx="5.0" ry="1.1" fill="rgb(67.0%,67.0%,67.0%)"/>
<ellipse cx="254.5" cy="86.8" rx="3.2" ry="1.3" fill="rgb(76.0%,76.0%,76.0%)"/>
<path d="M239.5 127.5 L241.0 126.2 L245.0 125.8 L250.5 125.7 L251.5 127.0 L250.5 128.9 L245.0 129.3 L240.5 128.8Z" fill="rgb(78.0%,78.0%,78.0%)"/>
<path d="M244.8 186.8 L246.5 185.5 L252.0 185.1 L256.0 185.2 L256.8 186.5 L255.5 187.8 L251.0 188.1 L246.5 187.9Z" fill="rgb(78.0%,78.0%,78.0%)"/>
<path d="M228.0 287.5 L229.5 285.5 L232.0 285.2 L235.5 285.5 L237.0 287.5 L237.0 291.0 L235.5 292.5 L231.0 292.8 L229.0 292.2 L228.0 290.5Z" fill="rgb(78.0%,78.0%,78.0%)"/>
<ellipse cx="242.3" cy="205.9" rx="4.8" ry="1.2" fill="rgb(80.0%,80.0%,80.0%)" transform="rotate(5 242.3 205.9)"/>
<path d="M228.7 288.0 L230.0 286.2 L233.0 286.0 L235.8 287.0 L236.2 290.0 L235.0 292.0 L231.0 292.2 L229.2 291.3Z" fill="rgb(90.0%,90.0%,90.0%)"/>
<path d="M240.5 127.5 L242.0 126.5 L246.0 126.2 L250.0 126.3 L250.3 127.7 L249.0 128.6 L245.0 128.8 L241.5 128.5Z" fill="rgb(92.0%,92.0%,92.0%)"/>
<path d="M246.0 186.7 L247.5 185.8 L252.0 185.5 L255.3 185.8 L255.5 186.8 L254.0 187.6 L250.0 187.8 L247.0 187.5Z" fill="rgb(92.0%,92.0%,92.0%)"/>
<ellipse cx="231.7" cy="290.0" rx="2.3" ry="1.7" fill="rgb(97.0%,97.0%,97.0%)"/>
</g></g>
<rect x="213.3" y="25.5" width="111.50" height="345.80" fill="none" stroke="#000020" stroke-width="0.8" stroke-opacity="0.7"/>
<path d="M231.9 371.3v-2.6M231.9 25.5v2.6M213.3 83.1h2.6M324.8 83.1h-2.6M250.5 371.3v-2.6M250.5 25.5v2.6M213.3 140.8h2.6M324.8 140.8h-2.6M269.1 371.3v-2.6M269.1 25.5v2.6M213.3 198.4h2.6M324.8 198.4h-2.6M287.6 371.3v-2.6M287.6 25.5v2.6M213.3 256.0h2.6M324.8 256.0h-2.6M306.2 371.3v-2.6M306.2 25.5v2.6M213.3 313.7h2.6M324.8 313.7h-2.6" stroke="#000040" stroke-width="0.8" stroke-opacity="0.45" fill="none"/>
<g filter="url(#tb)">
<text class="t" x="210.1" y="86.3" text-anchor="end">100</text>
<text class="t" x="210.1" y="144.0" text-anchor="end">200</text>
<text class="t" x="210.1" y="201.6" text-anchor="end">300</text>
<text class="t" x="210.1" y="259.2" text-anchor="end">400</text>
<text class="t" x="210.1" y="316.9" text-anchor="end">500</text>
<text class="t" x="210.1" y="374.5" text-anchor="end">600</text>
<text class="t" x="214.10" y="383.4" text-anchor="middle">5</text>
<text class="t" x="231.83" y="383.4" text-anchor="middle">15</text>
<text class="t" x="249.56" y="383.4" text-anchor="middle">25</text>
<text class="t" x="267.29" y="383.4" text-anchor="middle">35</text>
<text class="t" x="285.02" y="383.4" text-anchor="middle">45</text>
<text class="t" x="302.75" y="383.4" text-anchor="middle">55</text>
<text class="t" x="320.48" y="383.4" text-anchor="middle">65</text>
<text class="ax" x="269.75" y="395.3" text-anchor="middle" style="font-size:10.45px">Frequency(Hz)</text>
<text class="ax" transform="translate(191.0 198.4) rotate(-90)" x="0" y="0" text-anchor="middle" style="font-size:10.5px">Time(ms)</text>
<text class="pl" x="169.7" y="13.6">(b)</text>
</g>
<g clip-path="url(#cc)"><g filter="url(#jet)">
<rect x="386.8" y="22.1" width="119.20" height="352.90" fill="url(#bgg)"/>
<ellipse cx="441.0" cy="368.4" rx="56.0" ry="1.0" fill="rgb(4.3%,4.3%,4.3%)"/>
<ellipse cx="422.2" cy="157.3" rx="37.2" ry="1.0" fill="rgb(4.3%,4.3%,4.3%)"/>
<ellipse cx="421.3" cy="240.2" rx="36.3" ry="1.0" fill="rgb(4.3%,4.3%,4.3%)"/>
<ellipse cx="441.4" cy="352.7" rx="56.4" ry="1.0" fill="rgb(4.4%,4.4%,4.4%)"/>
<ellipse cx="447.3" cy="294.2" rx="62.3" ry="1.0" fill="rgb(4.4%,4.4%,4.4%)"/>
<ellipse cx="447.5" cy="127.7" rx="62.5" ry="1.0" fill="rgb(4.4%,4.4%,4.4%)"/>
<ellipse cx="432.4" cy="236.2" rx="47.4" ry="1.0" fill="rgb(4.4%,4.4%,4.4%)"/>
<ellipse cx="422.1" cy="304.8" rx="37.1" ry="1.0" fill="rgb(4.5%,4.5%,4.5%)"/>
<ellipse cx="433.0" cy="264.9" rx="48.0" ry="1.0" fill="rgb(4.6%,4.6%,4.6%)"/>
<ellipse cx="425.9" cy="318.5" rx="40.9" ry="1.0" fill="rgb(4.6%,4.6%,4.6%)"/>
<ellipse cx="433.0" cy="73.8" rx="48.0" ry="1.0" fill="rgb(4.6%,4.6%,4.6%)"/>
<ellipse cx="436.5" cy="191.1" rx="51.5" ry="1.0" fill="rgb(4.8%,4.8%,4.8%)"/>
<ellipse cx="424.6" cy="140.8" rx="39.6" ry="1.0" fill="rgb(5.0%,5.0%,5.0%)"/>
<ellipse cx="457.4" cy="313.2" rx="66.4" ry="1.1" fill="rgb(5.0%,5.0%,5.0%)"/>
<ellipse cx="426.6" cy="315.1" rx="41.6" ry="1.0" fill="rgb(5.0%,5.0%,5.0%)"/>
<ellipse cx="458.3" cy="266.7" rx="67.3" ry="1.1" fill="rgb(5.0%,5.0%,5.0%)"/>
<ellipse cx="443.8" cy="307.5" rx="58.8" ry="1.0" fill="rgb(5.1%,5.1%,5.1%)"/>
<ellipse cx="455.1" cy="55.6" rx="64.1" ry="1.1" fill="rgb(5.3%,5.3%,5.3%)"/>
<ellipse cx="422.0" cy="311.0" rx="37.0" ry="1.0" fill="rgb(5.3%,5.3%,5.3%)"/>
<ellipse cx="462.1" cy="167.3" rx="71.1" ry="1.1" fill="rgb(5.3%,5.3%,5.3%)"/>
<ellipse cx="457.2" cy="150.5" rx="66.2" ry="1.1" fill="rgb(5.3%,5.3%,5.3%)"/>
<ellipse cx="442.3" cy="224.2" rx="57.3" ry="1.0" fill="rgb(5.3%,5.3%,5.3%)"/>
<ellipse cx="453.2" cy="243.1" rx="62.2" ry="1.1" fill="rgb(5.4%,5.4%,5.4%)"/>
<ellipse cx="461.7" cy="227.9" rx="70.7" ry="1.1" fill="rgb(5.4%,5.4%,5.4%)"/>
<ellipse cx="455.8" cy="259.1" rx="64.8" ry="1.1" fill="rgb(5.4%,5.4%,5.4%)"/>
<ellipse cx="465.9" cy="65.4" rx="74.9" ry="1.1" fill="rgb(5.5%,5.5%,5.5%)"/>
<ellipse cx="454.2" cy="363.2" rx="63.2" ry="1.1" fill="rgb(5.5%,5.5%,5.5%)"/>
<ellipse cx="441.7" cy="36.7" rx="56.7" ry="1.0" fill="rgb(5.5%,5.5%,5.5%)"/>
<ellipse cx="458.9" cy="124.9" rx="67.9" ry="1.1" fill="rgb(5.5%,5.5%,5.5%)"/>
<ellipse cx="458.7" cy="206.4" rx="67.7" ry="1.1" fill="rgb(5.6%,5.6%,5.6%)"/>
<ellipse cx="452.2" cy="110.0" rx="61.2" ry="1.1" fill="rgb(5.6%,5.6%,5.6%)"/>
<ellipse cx="459.1" cy="340.6" rx="68.1" ry="1.1" fill="rgb(5.6%,5.6%,5.6%)"/>
<ellipse cx="466.1" cy="87.3" rx="75.1" ry="1.1" fill="rgb(5.6%,5.6%,5.6%)"/>
<ellipse cx="455.1" cy="325.8" rx="64.1" ry="1.1" fill="rgb(5.7%,5.7%,5.7%)"/>
<ellipse cx="464.8" cy="76.4" rx="73.8" ry="1.1" fill="rgb(5.7%,5.7%,5.7%)"/>
<ellipse cx="457.8" cy="28.8" rx="66.8" ry="1.1" fill="rgb(5.7%,5.7%,5.7%)"/>
<ellipse cx="458.6" cy="217.4" rx="67.6" ry="1.1" fill="rgb(5.9%,5.9%,5.9%)"/>
<ellipse cx="462.1" cy="142.4" rx="71.1" ry="1.1" fill="rgb(6.0%,6.0%,6.0%)"/>
<ellipse cx="459.1" cy="38.9" rx="68.1" ry="1.1" fill="rgb(6.1%,6.1%,6.1%)"/>
<ellipse cx="455.6" cy="289.3" rx="64.6" ry="1.1" fill="rgb(6.1%,6.1%,6.1%)"/>
<ellipse cx="452.9" cy="97.7" rx="61.9" ry="1.1" fill="rgb(6.2%,6.2%,6.2%)"/>
<ellipse cx="449.6" cy="186.3" rx="58.6" ry="1.1" fill="rgb(6.2%,6.2%,6.2%)"/>
<ellipse cx="390.5" cy="200.0" rx="9.0" ry="185.0" fill="rgb(6.5%,6.5%,6.5%)"/>
<ellipse cx="391.5" cy="350.0" rx="4.0" ry="24.0" fill="rgb(15.0%,15.0%,15.0%)"/>
<ellipse cx="430.7" cy="29.8" rx="14.0" ry="1.4" fill="rgb(22.0%,22.0%,22.0%)"/>
<path d="M416.5 53.5 L419.0 52.5 L426.0 54.0 L434.0 56.5 L440.0 58.5 L442.0 61.0 L443.0 64.0 L448.0 67.5 L451.0 71.0 L449.0 72.5 L443.0 71.5 L435.0 69.5 L430.0 67.0 L429.5 64.5 L432.0 62.5 L426.0 60.0 L420.0 57.5 L417.0 55.5Z" fill="rgb(22.0%,22.0%,22.0%)"/>
<path d="M423.0 84.0 L427.0 81.8 L435.0 81.8 L440.0 81.5 L447.0 77.5 L455.0 74.0 L457.5 75.5 L451.0 80.5 L443.0 85.5 L441.5 90.0 L437.0 93.5 L433.0 95.0 L433.5 99.0 L431.0 103.0 L433.0 106.0 L434.0 110.0 L430.0 113.3 L422.0 113.5 L416.0 112.5 L415.5 108.5 L418.0 105.0 L416.5 101.0 L416.5 96.5 L419.0 94.0 L423.0 92.5 L422.8 88.0Z" fill="rgb(22.0%,22.0%,22.0%)"/>
<path d="M409.5 126.4 L413.8 121.8 L421.5 119.6 L429.0 119.4 L431.5 120.8 L429.2 126.0 L436.3 128.6 L445.5 131.1 L438.5 133.3 L424.0 132.7 L414.0 130.8Z" fill="rgb(22.0%,22.0%,22.0%)"/>
<path d="M404.6 142.7 L407.8 139.5 L415.6 138.9 L425.0 137.0 L435.0 134.8 L440.5 134.0 L440.0 135.8 L430.0 138.5 L420.0 141.3 L418.2 144.8 L412.0 147.6 L406.8 145.8Z" fill="rgb(22.0%,22.0%,22.0%)"/>
<ellipse cx="421.6" cy="152.6" rx="6.6" ry="2.0" fill="rgb(22.0%,22.0%,22.0%)" transform="rotate(6 421.6 152.6)"/>
<path d="M403.1 161.8 L406.5 159.1 L415.0 162.4 L423.6 163.7 L435.5 164.6 L443.6 165.9 L441.6 168.4 L428.7 168.4 L416.7 166.4 L408.2 164.7 L404.0 163.8Z" fill="rgb(22.0%,22.0%,22.0%)"/>
<path d="M416.0 181.0 L417.5 179.3 L425.0 179.0 L432.0 178.3 L438.0 177.0 L444.0 176.5 L443.5 178.0 L437.0 179.5 L434.5 181.5 L435.0 188.0 L434.8 194.0 L432.5 195.7 L419.0 195.8 L416.5 194.0 L416.0 188.0Z" fill="rgb(22.0%,22.0%,22.0%)"/>
<path d="M410.2 217.5 L411.5 215.0 L415.0 214.0 L419.0 214.5 L424.0 211.0 L428.0 208.5 L429.0 209.5 L424.0 213.0 L421.0 216.5 L425.0 219.5 L431.0 222.0 L429.0 223.0 L420.0 222.5 L413.0 221.0 L410.7 219.5Z" fill="rgb(22.0%,22.0%,22.0%)"/>
<ellipse cx="423.2" cy="243.8" rx="7.6" ry="3.0" fill="rgb(22.0%,22.0%,22.0%)"/>
<ellipse cx="408.8" cy="266.3" rx="6.3" ry="2.8" fill="rgb(22.0%,22.0%,22.0%)" transform="rotate(10 408.8 266.3)"/>
<path d="M399.2 293.0 L400.5 289.5 L403.0 286.5 L407.0 285.0 L414.0 284.3 L420.0 283.6 L425.5 283.8 L424.0 285.5 L419.0 287.5 L416.5 291.0 L414.5 295.0 L410.0 296.0 L403.0 296.0 L400.0 295.2Z" fill="rgb(22.0%,22.0%,22.0%)"/>
<path d="M391.0 298.0 L393.0 300.0 L397.0 307.0 L403.0 311.0 L410.5 312.5 L410.0 315.0 L402.0 316.0 L395.0 316.5 L391.0 317.0Z" fill="rgb(22.0%,22.0%,22.0%)"/>
<path d="M391.0 332.0 L394.0 334.0 L398.0 338.0 L404.0 340.5 L409.0 341.5 L407.0 343.5 L400.0 343.5 L394.0 343.0 L391.0 342.5Z" fill="rgb(22.0%,22.0%,22.0%)"/>
<path d="M391.0 361.0 L395.0 362.0 L400.0 359.5 L406.0 357.0 L414.0 356.5 L417.0 357.5 L414.0 359.5 L407.0 360.5 L402.0 363.0 L398.0 367.5 L393.0 368.5 L391.0 368.0Z" fill="rgb(22.0%,22.0%,22.0%)"/>
<ellipse cx="437.0" cy="229.0" rx="6.5" ry="1.6" fill="rgb(28.0%,28.0%,28.0%)"/>
<ellipse cx="431.5" cy="259.2" rx="7.0" ry="1.6" fill="rgb(28.0%,28.0%,28.0%)" transform="rotate(-6 431.5 259.2)"/>
<ellipse cx="437.8" cy="40.2" rx="6.8" ry="1.1" fill="rgb(30.0%,30.0%,30.0%)"/>
<ellipse cx="433.2" cy="206.7" rx="7.3" ry="1.9" fill="rgb(30.0%,30.0%,30.0%)" transform="rotate(-12 433.2 206.7)"/>
<ellipse cx="424.3" cy="325.5" rx="4.8" ry="1.4" fill="rgb(30.0%,30.0%,30.0%)"/>
<path d="M418.5 54.0 L426.0 55.2 L434.0 57.3 L439.5 59.5 L441.0 62.0 L441.5 64.5 L446.0 68.0 L448.0 70.5 L443.0 70.2 L435.0 68.5 L431.5 66.8 L431.5 64.5 L434.0 62.5 L426.0 59.0 L420.0 56.5Z" fill="rgb(40.0%,40.0%,40.0%)"/>
<ellipse cx="431.0" cy="88.0" rx="9.0" ry="5.2" fill="rgb(40.0%,40.0%,40.0%)" transform="rotate(-15 431.0 88.0)"/>
<ellipse cx="424.2" cy="98.7" rx="8.0" ry="4.8" fill="rgb(40.0%,40.0%,40.0%)"/>
<ellipse cx="425.0" cy="110.0" rx="9.0" ry="3.2" fill="rgb(40.0%,40.0%,40.0%)"/>
<path d="M410.8 126.4 L414.5 122.8 L421.5 121.0 L428.2 120.6 L430.0 121.6 L427.8 126.5 L436.0 129.6 L442.0 131.3 L436.0 132.2 L424.0 131.8 L414.0 130.0Z" fill="rgb(40.0%,40.0%,40.0%)"/>
<path d="M405.8 142.7 L408.6 140.4 L415.5 139.9 L425.0 138.0 L433.0 136.0 L430.0 137.6 L420.0 140.8 L417.2 144.3 L412.0 146.6 L407.6 145.2Z" fill="rgb(40.0%,40.0%,40.0%)"/>
<path d="M404.2 161.9 L406.6 160.0 L415.0 163.2 L423.6 164.5 L435.5 165.4 L441.5 166.4 L441.0 167.6 L428.7 167.6 L416.7 165.6 L408.2 164.0 L404.8 163.1Z" fill="rgb(40.0%,40.0%,40.0%)"/>
<path d="M417.0 181.5 L418.3 180.2 L425.0 180.0 L432.0 179.4 L437.0 178.4 L434.0 180.8 L433.8 188.0 L433.7 193.7 L432.0 194.8 L419.5 194.9 L417.3 193.5 L417.0 188.0Z" fill="rgb(40.0%,40.0%,40.0%)"/>
<ellipse cx="415.5" cy="217.8" rx="5.0" ry="2.5" fill="rgb(40.0%,40.0%,40.0%)" transform="rotate(15 415.5 217.8)"/>
<ellipse cx="408.5" cy="266.3" rx="4.5" ry="2.0" fill="rgb(40.0%,40.0%,40.0%)" transform="rotate(10 408.5 266.3)"/>
<path d="M400.3 293.0 L401.5 290.0 L404.0 287.3 L408.0 285.8 L414.0 285.1 L420.0 284.5 L422.5 284.6 L418.5 286.8 L415.8 290.5 L413.8 294.5 L410.0 295.3 L403.0 295.3 L400.8 294.6Z" fill="rgb(40.0%,40.0%,40.0%)"/>
<path d="M391.0 302.0 L395.0 308.0 L402.0 312.3 L408.0 313.7 L402.0 315.0 L394.0 315.5 L391.0 315.0Z" fill="rgb(40.0%,40.0%,40.0%)"/>
<ellipse cx="397.0" cy="340.5" rx="5.0" ry="2.2" fill="rgb(40.0%,40.0%,40.0%)" transform="rotate(20 397.0 340.5)"/>
<ellipse cx="397.0" cy="364.5" rx="5.0" ry="3.0" fill="rgb(40.0%,40.0%,40.0%)" transform="rotate(-20 397.0 364.5)"/>
<ellipse cx="408.0" cy="358.5" rx="6.5" ry="1.5" fill="rgb(40.0%,40.0%,40.0%)" transform="rotate(-5 408.0 358.5)"/>
<ellipse cx="421.3" cy="152.5" rx="4.5" ry="1.3" fill="rgb(42.0%,42.0%,42.0%)" transform="rotate(6 421.3 152.5)"/>
<ellipse cx="423.0" cy="243.8" rx="5.5" ry="2.0" fill="rgb(45.0%,45.0%,45.0%)"/>
<ellipse cx="430.7" cy="29.8" rx="10.0" ry="0.9" fill="rgb(46.0%,46.0%,46.0%)"/>
<ellipse cx="436.5" cy="66.5" rx="4.0" ry="1.5" fill="rgb(46.0%,46.0%,46.0%)" transform="rotate(15 436.5 66.5)"/>
<ellipse cx="408.0" cy="266.3" rx="2.8" ry="1.3" fill="rgb(50.0%,50.0%,50.0%)" transform="rotate(10 408.0 266.3)"/>
<ellipse cx="395.5" cy="339.5" rx="2.8" ry="1.5" fill="rgb(50.0%,50.0%,50.0%)" transform="rotate(25 395.5 339.5)"/>
<ellipse cx="424.0" cy="56.6" rx="7.0" ry="2.2" fill="rgb(52.0%,52.0%,52.0%)" transform="rotate(16 424.0 56.6)"/>
<ellipse cx="430.5" cy="87.8" rx="4.5" ry="2.6" fill="rgb(52.0%,52.0%,52.0%)" transform="rotate(-15 430.5 87.8)"/>
<ellipse cx="423.2" cy="98.9" rx="4.0" ry="2.5" fill="rgb(52.0%,52.0%,52.0%)"/>
<ellipse cx="423.5" cy="109.8" rx="4.5" ry="1.6" fill="rgb(52.0%,52.0%,52.0%)"/>
<path d="M412.0 126.4 L415.6 123.4 L421.0 122.2 L425.9 123.4 L427.0 127.0 L432.5 129.8 L426.5 130.7 L418.0 129.4 L413.2 128.2Z" fill="rgb(52.0%,52.0%,52.0%)"/>
<path d="M407.0 142.8 L409.0 140.9 L415.0 140.8 L416.0 143.5 L412.5 145.6 L408.5 144.8Z" fill="rgb(52.0%,52.0%,52.0%)"/>
<path d="M417.5 164.3 L428.0 164.9 L440.0 165.8 L439.5 167.6 L428.0 167.6 L417.5 166.2Z" fill="rgb(52.0%,52.0%,52.0%)"/>
<path d="M417.8 183.0 L419.5 181.2 L425.0 180.9 L430.5 180.8 L432.8 182.5 L432.8 188.0 L432.4 192.5 L430.5 194.0 L421.0 194.1 L418.5 192.8 L418.0 188.0Z" fill="rgb(52.0%,52.0%,52.0%)"/>
<path d="M401.2 292.8 L402.5 290.0 L404.8 287.7 L408.5 286.5 L413.5 286.0 L417.3 286.2 L416.0 289.0 L414.8 292.0 L413.0 294.5 L409.0 294.8 L403.0 294.8 L401.5 294.0Z" fill="rgb(52.0%,52.0%,52.0%)"/>
<ellipse cx="423.0" cy="109.7" rx="2.5" ry="1.1" fill="rgb(55.0%,55.0%,55.0%)"/>
<ellipse cx="415.0" cy="217.5" rx="3.5" ry="1.7" fill="rgb(55.0%,55.0%,55.0%)" transform="rotate(15 415.0 217.5)"/>
<ellipse cx="397.0" cy="312.5" rx="4.5" ry="2.0" fill="rgb(55.0%,55.0%,55.0%)" transform="rotate(10 397.0 312.5)"/>
<ellipse cx="430.3" cy="87.8" rx="2.5" ry="1.5" fill="rgb(58.0%,58.0%,58.0%)"/>
<path d="M419.0 184.0 L420.5 182.3 L425.0 182.0 L429.5 182.0 L431.4 183.5 L431.4 188.0 L431.0 191.8 L429.5 193.0 L422.0 193.1 L419.8 192.0 L419.2 188.0Z" fill="rgb(59.0%,59.0%,59.0%)"/>
<ellipse cx="423.0" cy="98.9" rx="2.5" ry="1.6" fill="rgb(60.0%,60.0%,60.0%)"/>
<ellipse cx="395.0" cy="365.0" rx="3.0" ry="2.2" fill="rgb(60.0%,60.0%,60.0%)" transform="rotate(-20 395.0 365.0)"/>
<ellipse cx="422.8" cy="56.1" rx="4.5" ry="1.5" fill="rgb(62.0%,62.0%,62.0%)" transform="rotate(16 422.8 56.1)"/>
<path d="M413.0 126.4 L416.0 124.0 L421.0 123.0 L424.8 124.2 L425.5 127.2 L428.0 129.5 L424.0 130.0 L418.0 129.0 L414.0 127.8Z" fill="rgb(64.0%,64.0%,64.0%)"/>
<ellipse cx="410.8" cy="143.0" rx="3.3" ry="1.7" fill="rgb(64.0%,64.0%,64.0%)"/>
<ellipse cx="423.8" cy="188.5" rx="3.5" ry="4.0" fill="rgb(64.0%,64.0%,64.0%)"/>
<path d="M402.0 292.7 L403.3 290.2 L405.5 288.2 L409.0 287.1 L413.3 286.7 L416.0 286.9 L414.8 289.5 L413.8 292.2 L412.3 294.0 L409.0 294.3 L403.5 294.3 L402.3 293.6Z" fill="rgb(64.0%,64.0%,64.0%)"/>
<ellipse cx="428.5" cy="166.3" rx="8.0" ry="1.1" fill="rgb(68.0%,68.0%,68.0%)" transform="rotate(3 428.5 166.3)"/>
<ellipse cx="418.4" cy="126.2" rx="4.3" ry="2.3" fill="rgb(78.0%,78.0%,78.0%)"/>
<path d="M403.3 292.4 L404.5 290.2 L406.5 288.6 L409.5 287.8 L412.5 287.6 L414.0 288.2 L413.2 290.5 L412.0 292.8 L409.0 293.6 L405.0 293.6Z" fill="rgb(78.0%,78.0%,78.0%)"/>
<ellipse cx="418.4" cy="126.2" rx="3.3" ry="1.7" fill="rgb(92.0%,92.0%,92.0%)"/>
<path d="M404.5 292.0 L405.7 290.2 L407.5 289.0 L410.0 288.5 L412.3 288.6 L412.2 290.5 L411.0 292.4 L408.5 293.0 L405.5 293.0Z" fill="rgb(92.0%,92.0%,92.0%)"/>
<ellipse cx="408.5" cy="290.6" rx="2.3" ry="1.3" fill="rgb(97.0%,97.0%,97.0%)" transform="rotate(-15 408.5 290.6)"/>
</g></g>
<rect x="390.8" y="26.1" width="111.20" height="344.90" fill="none" stroke="#000020" stroke-width="0.8" stroke-opacity="0.7"/>
<path d="M409.3 371.0v-2.6M409.3 26.1v2.6M390.8 83.6h2.6M502.0 83.6h-2.6M427.9 371.0v-2.6M427.9 26.1v2.6M390.8 141.1h2.6M502.0 141.1h-2.6M446.4 371.0v-2.6M446.4 26.1v2.6M390.8 198.5h2.6M502.0 198.5h-2.6M464.9 371.0v-2.6M464.9 26.1v2.6M390.8 256.0h2.6M502.0 256.0h-2.6M483.5 371.0v-2.6M483.5 26.1v2.6M390.8 313.5h2.6M502.0 313.5h-2.6" stroke="#000040" stroke-width="0.8" stroke-opacity="0.45" fill="none"/>
<g filter="url(#tb)">
<text class="t" x="387.6" y="86.8" text-anchor="end">100</text>
<text class="t" x="387.6" y="144.3" text-anchor="end">200</text>
<text class="t" x="387.6" y="201.7" text-anchor="end">300</text>
<text class="t" x="387.6" y="259.2" text-anchor="end">400</text>
<text class="t" x="387.6" y="316.7" text-anchor="end">500</text>
<text class="t" x="387.6" y="374.2" text-anchor="end">600</text>
<text class="t" x="391.30" y="383.2" text-anchor="middle">5</text>
<text class="t" x="408.93" y="383.2" text-anchor="middle">15</text>
<text class="t" x="426.56" y="383.2" text-anchor="middle">25</text>
<text class="t" x="444.19" y="383.2" text-anchor="middle">35</text>
<text class="t" x="461.82" y="383.2" text-anchor="middle">45</text>
<text class="t" x="479.45" y="383.2" text-anchor="middle">55</text>
<text class="t" x="497.08" y="383.2" text-anchor="middle">65</text>
<text class="ax" x="447.00" y="395.3" text-anchor="middle" style="font-size:10.5px">Frequency(Hz)</text>
<text class="ax" transform="translate(368.5 198.6) rotate(-90)" x="0" y="0" text-anchor="middle" style="font-size:10.7px">Time(ms)</text>
<text class="pl" x="353.8" y="13.6">(c)</text>
</g>
</svg></body></html>
